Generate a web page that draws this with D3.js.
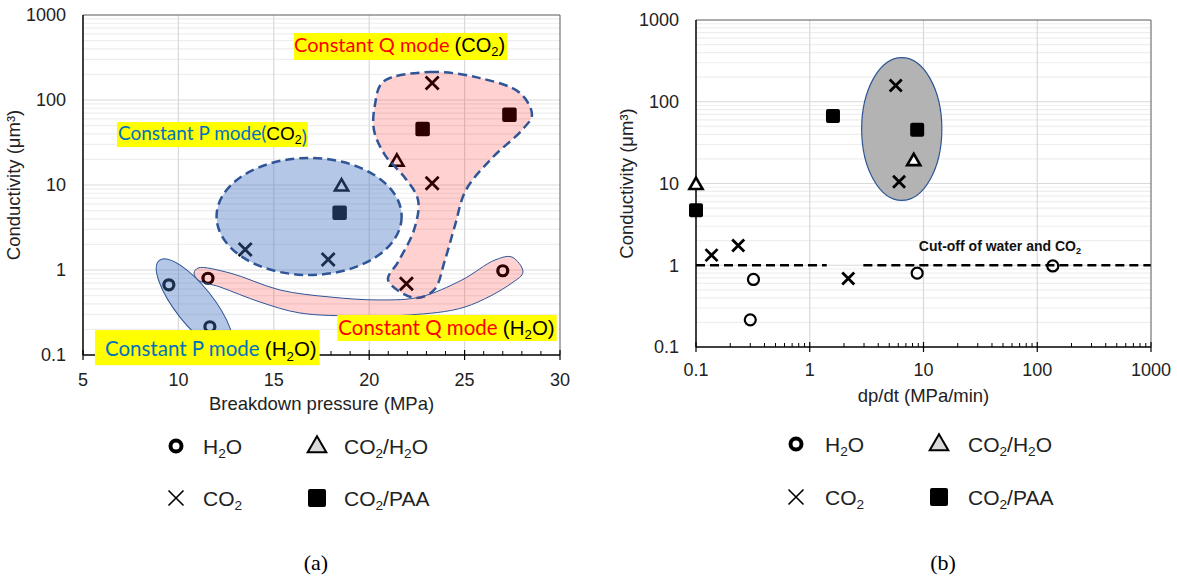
<!DOCTYPE html>
<html>
<head>
<meta charset="utf-8">
<script src="https://cdn.jsdelivr.net/npm/d3@7"></script>
<style>
  body { margin: 0; background: #fff; }
  svg { display: block; }
</style>
</head>
<body>
<svg id="chart" width="1177" height="581" font-family="'Liberation Sans', Arial, sans-serif"></svg>
<script>
// conductivity (µm³), same samples in both panels
const condH2O = [0.67, 0.215, 0.80, 0.98];
const condCO2 = [158, 10.5, 1.74, 1.33, 0.69];
const condCO2H2O = [9.8, 19.2];
const condPAA = [4.7, 45.5, 67];

// panel (a): breakdown pressure (MPa)
const presH2O = [9.5, 11.65, 11.55, 27.0];
const presCO2 = [23.3, 23.3, 13.5, 17.85, 21.95];
const presCO2H2O = [18.55, 21.45];
const presPAA = [18.45, 22.8, 27.35];

// panel (b): dp/dt (MPa/min)
const rateH2O = [0.32, 0.30, 8.8, 137];
const rateCO2 = [5.7, 6.1, 0.235, 0.137, 2.18];
const rateCO2H2O = [0.1, 8.2];
const ratePAA = [0.1, 8.8, 1.6];

const seriesNames = ["H₂O", "CO₂", "CO₂/H₂O", "CO₂/PAA"];
const seriesKinds = ["circle", "cross", "tri", "square"];
const presTicks = [5, 10, 15, 20, 25, 30];
const rateTicks = [0.1, 1, 10, 100, 1000];
const condTicks = [0.1, 1, 10, 100, 1000];
const cutoffValue = 1;
const cutoffSpans = [[0.1, 1.41], [2.96, 1000]];

// annotation regions of panel (a), outlines in data units (MPa, µm³)
const qModeCO2Outline = [[20.72, 163], [23.19, 213], [25.81, 181], [27.9, 121], [28.53, 66.6],
  [28.01, 44.4], [26.44, 20.8], [25.07, 8.73], [24.5, 3.38], [23.97, 1.31], [23.4, 0.582],
  [22.4, 0.468], [20.99, 0.763], [21.51, 1.24], [22.35, 2.96], [22.56, 6.66], [21.88, 12.1],
  [20.83, 22.5], [20.25, 44.4], [20.3, 87.3]];
const qModeH2OOutline = [[11.03, 1.056], [12.7, 0.922], [15.32, 0.582], [17.95, 0.481],
  [20.57, 0.444], [22.66, 0.481], [24.86, 0.763], [26.59, 1.31], [27.48, 1.42], [28.06, 0.947],
  [27.48, 0.703], [25.02, 0.367], [22.14, 0.296], [19.52, 0.288], [16.37, 0.312], [14.28, 0.42],
  [12.18, 0.631], [11.03, 0.763], [10.82, 0.922]];
const pModeCO2Bounds = [[12.0, 0.873], [21.7, 20.8]];
const pModeH2OAxis = [[9.0, 1.3], [12.7, 0.115]];
// panel (b) grey group
const fastGroupBounds = [[2.86, 6.2], [14.5, 346]];

const svg = d3.select("#chart");
svg.append("rect").attr("width", 1177).attr("height", 581).attr("fill", "#fff");

const A = { l: 83, r: 560, t: 15, b: 355 };
const B = { l: 696, r: 1151, t: 20, b: 347 };

const xa = d3.scaleLinear().domain([5, 30]).range([A.l, A.r]);
const ya = d3.scaleLog().domain([0.1, 1000]).range([A.b, A.t]);
const xb = d3.scaleLog().domain([0.1, 1000]).range([B.l, B.r]);
const yb = d3.scaleLog().domain([0.1, 1000]).range([B.b, B.t]);

const logMinor = d3.range(-1, 3).flatMap(e => d3.range(2, 10).map(k => +(k * Math.pow(10, e)).toPrecision(3)));

// text with ₂ turned into a small lowered digit
function rich(sel, str, size) {
  const parts = str.split(/([₂])/);
  let shifted = false;
  parts.forEach(p => {
    if (!p) return;
    if (p === "₂") {
      sel.append("tspan").attr("font-size", size * 0.65).attr("dy", size * 0.22).text("2");
      shifted = true;
    } else {
      const t = sel.append("tspan").text(p);
      if (shifted) { t.attr("dy", -size * 0.22); shifted = false; }
    }
  });
  return sel;
}

function grid(g, x, y, box, xLines) {
  g.selectAll("line.hmin").data(logMinor).join("line").attr("class", "hmin")
    .attr("x1", box.l).attr("x2", box.r).attr("y1", d => y(d)).attr("y2", d => y(d))
    .attr("stroke", "#eeeeee").attr("stroke-width", 1.2);
  g.selectAll("line.hmaj").data([1, 10, 100]).join("line").attr("class", "hmaj")
    .attr("x1", box.l).attr("x2", box.r).attr("y1", d => y(d)).attr("y2", d => y(d))
    .attr("stroke", "#d9d9d9").attr("stroke-width", 1.2);
  g.selectAll("line.vmaj").data(xLines).join("line").attr("class", "vmaj")
    .attr("y1", box.t).attr("y2", box.b).attr("x1", d => x(d)).attr("x2", d => x(d))
    .attr("stroke", "#d9d9d9").attr("stroke-width", 1.2);
}

function marker(g, kind, cx, cy, st) {
  if (kind === "circle") {
    g.append("circle").attr("cx", cx).attr("cy", cy).attr("r", st.r)
      .attr("fill", "none").attr("stroke", "#000").attr("stroke-width", st.cw);
  } else if (kind === "cross") {
    const s = st.xs;
    g.append("path").attr("d", `M${cx - s},${cy - s}L${cx + s},${cy + s}M${cx - s},${cy + s}L${cx + s},${cy - s}`)
      .attr("stroke", "#000").attr("stroke-width", st.xw).attr("fill", "none");
  } else if (kind === "tri") {
    g.append("path").attr("d", d3.symbol(d3.symbolTriangle, st.ta)())
      .attr("transform", `translate(${cx},${cy + 1})`)
      .attr("fill", st.tf).attr("stroke", "#000").attr("stroke-width", st.tw).attr("stroke-linejoin", "miter");
  } else {
    g.append("rect").attr("x", cx - st.sq / 2).attr("y", cy - st.sq / 2)
      .attr("width", st.sq).attr("height", st.sq).attr("rx", 2).attr("fill", "#000");
  }
}

function drawSeries(g, x, y, sets, st) {
  sets.forEach((s, i) => {
    s.xs.forEach((v, j) => marker(g, seriesKinds[i], x(v), y(s.ys[j]), st));
  });
}

function axes(g, x, y, box, xTicks, xMinor, xTitle, titleY, tickY) {
  // frame
  g.append("line").attr("x1", box.l).attr("x2", box.r).attr("y1", box.t).attr("y2", box.t).attr("stroke", "#595959");
  g.append("line").attr("x1", box.r).attr("x2", box.r).attr("y1", box.t).attr("y2", box.b).attr("stroke", "#595959");
  g.append("line").attr("x1", box.l).attr("x2", box.l).attr("y1", box.t).attr("y2", box.b).attr("stroke", "#000").attr("stroke-width", 1.5);
  g.append("line").attr("x1", box.l).attr("x2", box.r).attr("y1", box.b).attr("y2", box.b).attr("stroke", "#000").attr("stroke-width", 1.5);
  g.selectAll("line.mt").data(xMinor).join("line").attr("class", "mt")
    .attr("x1", d => x(d)).attr("x2", d => x(d)).attr("y1", box.b - 4).attr("y2", box.b)
    .attr("stroke", "#000").attr("stroke-width", 1);
  g.selectAll("line.jt").data(xTicks).join("line").attr("class", "jt")
    .attr("x1", d => x(d)).attr("x2", d => x(d)).attr("y1", box.b - 5).attr("y2", box.b + 5)
    .attr("stroke", "#000").attr("stroke-width", 1.2);
  g.selectAll("text.xt").data(xTicks).join("text").attr("class", "xt")
    .attr("x", d => x(d)).attr("y", tickY).attr("text-anchor", "middle")
    .attr("font-size", 18).attr("fill", "#222").text(d => String(d));
  g.selectAll("text.yt").data(condTicks).join("text").attr("class", "yt")
    .attr("x", box.l - 17).attr("y", d => y(d)).attr("dy", "0.36em").attr("text-anchor", "end")
    .attr("font-size", 18).attr("fill", "#222").text(d => String(d));
  g.append("text").attr("x", (box.l + box.r) / 2).attr("y", titleY).attr("text-anchor", "middle")
    .attr("font-size", 18.5).attr("fill", "#222").text(xTitle);
  const cy = (box.t + box.b) / 2;
  g.append("text").attr("transform", `translate(${box.l - 63},${cy}) rotate(-90)`)
    .attr("text-anchor", "middle").attr("font-size", 18.5).attr("fill", "#222").text("Conductivity (μm³)");
}

function legend(g, c1, c2, r1, r2, textGap) {
  const st = { r: 5.5, cw: 4, xs: 7.5, xw: 1.6, ta: 150, tw: 2, tf: "#d9d9d9", sq: 18 };
  const pos = [[c1, r1], [c1, r2], [c2, r1], [c2, r2]];
  seriesNames.forEach((name, i) => {
    const [cx, cy] = pos[i];
    marker(g, seriesKinds[i], cx, cy, st);
    rich(g.append("text").attr("x", cx + textGap).attr("y", cy).attr("dy", "0.36em")
      .attr("font-size", 21).attr("fill", "#222"), name, 21);
  });
}

const serif = "'Liberation Serif', 'Times New Roman', serif";

// ---------------- panel (a) ----------------
const ga = svg.append("g");
grid(ga, xa, ya, A, [10, 15, 20, 25]);
drawSeries(ga, xa, ya, [
  { xs: presH2O, ys: condH2O },
  { xs: presCO2, ys: condCO2 },
  { xs: presCO2H2O, ys: condCO2H2O },
  { xs: presPAA, ys: condPAA }
], { r: 5, cw: 3.2, xs: 6.5, xw: 2.8, ta: 75, tw: 2.6, tf: "none", sq: 14.5 });

const area = d3.line().x(d => xa(d[0])).y(d => ya(d[1])).curve(d3.curveCatmullRomClosed.alpha(0.5));

// blue ellipses (constant P)
{
  const [p0, p1] = pModeCO2Bounds;
  const x0 = xa(p0[0]), x1 = xa(p1[0]), y0 = ya(p0[1]), y1 = ya(p1[1]);
  ga.append("ellipse").attr("cx", (x0 + x1) / 2).attr("cy", (y0 + y1) / 2)
    .attr("rx", (x1 - x0) / 2).attr("ry", Math.abs(y0 - y1) / 2)
    .attr("fill", "#4472c4").attr("fill-opacity", 0.4)
    .attr("stroke", "#2f5597").attr("stroke-width", 2.5).attr("stroke-dasharray", "9,5");
}
{
  const [a0, a1] = pModeH2OAxis;
  const X0 = xa(a0[0]), Y0 = ya(a0[1]), X1 = xa(a1[0]), Y1 = ya(a1[1]);
  const len = Math.hypot(X1 - X0, Y1 - Y0) / 2;
  const ang = Math.atan2(Y1 - Y0, X1 - X0) * 180 / Math.PI;
  ga.append("ellipse").attr("cx", 0).attr("cy", 0).attr("rx", len).attr("ry", 19)
    .attr("transform", `translate(${(X0 + X1) / 2},${(Y0 + Y1) / 2}) rotate(${ang})`)
    .attr("fill", "#4472c4").attr("fill-opacity", 0.4)
    .attr("stroke", "#2f5597").attr("stroke-width", 1);
}
// pink regions (constant Q)
ga.append("path").attr("d", area(qModeCO2Outline))
  .attr("fill", "#ff0000").attr("fill-opacity", 0.18)
  .attr("stroke", "#2f5597").attr("stroke-width", 2.5).attr("stroke-dasharray", "9,5");
ga.append("path").attr("d", area(qModeH2OOutline))
  .attr("fill", "#ff0000").attr("fill-opacity", 0.18)
  .attr("stroke", "#2f5597").attr("stroke-width", 1);

axes(ga, xa, ya, A, presTicks, d3.range(6, 30).filter(v => v % 5), "Breakdown pressure (MPa)", 410, 386);

// yellow mode labels
const calibri = "Lato, 'Open Sans', sans-serif";
const arial = "'Liberation Sans', Arial, sans-serif";
const modeLabels = [
  { at: [16.06, 367], size: 20, up: 19, down: 8, padL: 0, padR: 2,
    parts: [["Constant Q mode ", "#ff0000", calibri], ["(CO₂)", "#000", arial]] },
  { at: [6.83, 33.8], size: 19, up: 18, down: 7, padL: 1, padR: 1,
    parts: [["Constant P mode(", "#0070c0", calibri], ["CO₂", "#000", arial], [")", "#0070c0", calibri]] },
  { at: [6.15, 0.097], size: 20.5, up: 26, down: 9, padL: 10, padR: 3,
    parts: [["Constant P mode ", "#0070c0", calibri], ["(H₂O)", "#000", arial]] },
  { at: [18.38, 0.172], size: 20.5, up: 20, down: 6, padL: 1, padR: 2,
    parts: [["Constant Q mode ", "#ff0000", calibri], ["(H₂O)", "#000", arial]] }
];
modeLabels.forEach(lb => {
  const lg = ga.append("g");
  const bg = lg.append("rect").attr("fill", "#ffff00");
  const tx = lg.append("text").attr("x", xa(lb.at[0])).attr("y", ya(lb.at[1])).attr("font-size", lb.size);
  lb.parts.forEach(([s, c, f]) => {
    const sub = tx.append("tspan").attr("fill", c).attr("font-family", f);
    rich(sub, s, lb.size);
  });
  const bb = tx.node().getBBox();
  const by = ya(lb.at[1]);
  bg.attr("x", bb.x - lb.padL).attr("width", bb.width + lb.padL + lb.padR)
    .attr("y", by - lb.up).attr("height", lb.up + lb.down);
});

legend(ga, 176, 317, 446, 498, 27);
ga.append("text").attr("x", 316).attr("y", 570).attr("text-anchor", "middle")
  .attr("font-family", serif).attr("font-size", 22).text("(a)");

// ---------------- panel (b) ----------------
const gb = svg.append("g");
grid(gb, xb, yb, B, [1, 10, 100]);
{
  const [p0, p1] = fastGroupBounds;
  const x0 = xb(p0[0]), x1 = xb(p1[0]), y0 = yb(p0[1]), y1 = yb(p1[1]);
  gb.append("ellipse").attr("cx", (x0 + x1) / 2).attr("cy", (y0 + y1) / 2)
    .attr("rx", (x1 - x0) / 2).attr("ry", Math.abs(y0 - y1) / 2)
    .attr("fill", "#b3b3b3").attr("stroke", "#2f5597").attr("stroke-width", 1.2);
}
gb.selectAll("line.cut").data(cutoffSpans).join("line").attr("class", "cut")
  .attr("x1", d => xb(d[0])).attr("x2", d => xb(d[1]))
  .attr("y1", yb(cutoffValue)).attr("y2", yb(cutoffValue))
  .attr("stroke", "#000").attr("stroke-width", 2.5).attr("stroke-dasharray", "9,5");
rich(gb.append("text").attr("x", xb(9.1)).attr("y", yb(1.51))
  .attr("font-size", 14).attr("font-weight", "bold").attr("fill", "#111"), "Cut-off of water and CO₂", 14);

axes(gb, xb, yb, B, rateTicks, logMinor, "dp/dt (MPa/min)", 402, 376);
drawSeries(gb, xb, yb, [
  { xs: rateH2O, ys: condH2O },
  { xs: rateCO2, ys: condCO2 },
  { xs: rateCO2H2O, ys: condCO2H2O },
  { xs: ratePAA, ys: condPAA }
], { r: 5.5, cw: 2.2, xs: 6, xw: 2.8, ta: 75, tw: 2.6, tf: "#fff", sq: 14 });

legend(gb, 796, 939, 444, 497, 29);
gb.append("text").attr("x", 943).attr("y", 570).attr("text-anchor", "middle")
  .attr("font-family", serif).attr("font-size", 22).text("(b)");
</script>
</body>
</html>
